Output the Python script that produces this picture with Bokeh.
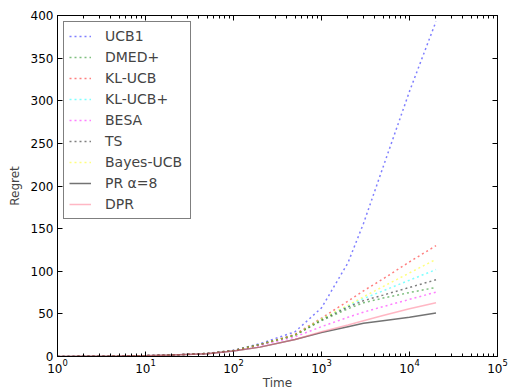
from bokeh.plotting import figure
from bokeh.models import (FixedTicker, LogAxis, LinearAxis, Legend, LegendItem)
from bokeh.embed import file_html
from bokeh.resources import INLINE

# ---------------- data ----------------
time = [1, 2, 5, 10, 20, 50, 100, 200, 500, 1000, 2000, 3000, 5000, 10000, 20000]
ucb1 = [0, 0.2, 0.5, 1.0, 1.8, 3.6, 7.2, 15, 29, 57, 110, 156, 222, 311, 393]
dmed_plus = [0, 0.2, 0.5, 1.0, 1.8, 3.5, 7.0, 14, 25, 42, 56, 63, 68.5, 75, 81]
kl_ucb = [0, 0.2, 0.5, 1.0, 1.8, 3.5, 7.0, 14, 26, 45, 65, 77, 91, 111, 130]
kl_ucb_plus = [0, 0.2, 0.5, 1.0, 1.8, 3.5, 7.0, 14, 25, 44, 59, 68, 77, 89.5, 102]
besa = [0, 0.2, 0.5, 1.0, 1.8, 3.4, 6.8, 13, 23, 35, 46, 52, 58.5, 67, 75.5]
ts = [0, 0.2, 0.5, 1.0, 1.8, 3.5, 7.0, 14, 25, 43, 58, 65.5, 72, 81, 90]
bayes_ucb = [0, 0.2, 0.5, 1.0, 1.8, 3.5, 7.0, 14, 25, 44, 60, 70, 82, 98, 114]
pr_alpha8 = [0, 0.2, 0.5, 1.0, 1.7, 3.3, 6.5, 11, 20, 28, 35, 39, 42, 46, 51]
dpr = [0, 0.2, 0.5, 1.0, 1.7, 3.3, 6.5, 11, 20, 29, 37, 42, 48, 56, 63]

labels = ["UCB1", "DMED+", "KL-UCB", "KL-UCB+", "BESA", "TS", "Bayes-UCB",
          "PR \u03b1=8", "DPR"]
series = [ucb1, dmed_plus, kl_ucb, kl_ucb_plus, besa, ts, bayes_ucb, pr_alpha8, dpr]
colors = ["#0000ff", "#008000", "#ff0000", "#00ffff", "#ff00ff", "#000000",
          "#ffff00", "#000000", "#ff6f8a"]
alphas = [0.5, 0.5, 0.5, 0.5, 0.5, 0.5, 0.5, 0.55, 0.5]
dashes = ["2 3"] * 7 + ["solid", "solid"]

x_major = [1, 10, 100, 1000, 10000, 100000]
y_major = [0, 50, 100, 150, 200, 250, 300, 350, 400]

FONT = "DejaVu Sans"

p = figure(width=510, height=392, x_axis_type="log", x_range=(1, 1e5),
           y_range=(0, 400), output_backend="svg", toolbar_location=None,
           min_border_left=57, min_border_right=13, min_border_top=15,
           min_border_bottom=34)
p.background_fill_color = "white"
p.border_fill_color = "white"
p.outline_line_color = "black"
p.outline_line_width = 1
p.xgrid.visible = False
p.ygrid.visible = False

minor = [m * 10 ** e for e in range(0, 5) for m in range(2, 10)]
xt = FixedTicker(ticks=x_major, minor_ticks=minor)
yt = FixedTicker(ticks=y_major)

def style(ax, show_labels):
    ax.axis_line_color = "black"
    ax.major_tick_in = 5
    ax.major_tick_out = 0
    ax.minor_tick_in = 3
    ax.minor_tick_out = 0
    ax.major_tick_line_color = "black"
    ax.minor_tick_line_color = "black"
    ax.major_label_text_font = FONT
    ax.major_label_text_font_size = "12px" if show_labels else "0px"
    ax.major_label_text_color = "black"
    ax.axis_label_text_font = FONT
    ax.axis_label_text_font_size = "12px"
    ax.axis_label_text_font_style = "normal"
    if not show_labels:
        ax.major_label_text_alpha = 0
        ax.major_label_standoff = 0

xa = p.xaxis[0]
xa.ticker = xt
xa.axis_label = "Time"
style(xa, True)
xa.axis_label_standoff = 0
xa.major_label_standoff = 2

ya = p.yaxis[0]
ya.ticker = yt
ya.axis_label = "Regret"
style(ya, True)
ya.axis_label_standoff = 6
ya.major_label_standoff = 4
ya.minor_tick_line_color = None

top = LogAxis(ticker=FixedTicker(ticks=x_major, minor_ticks=minor))
style(top, False)
p.add_layout(top, "above")
right = LinearAxis(ticker=FixedTicker(ticks=y_major))
style(right, False)
right.minor_tick_line_color = None
p.add_layout(right, "right")

items = []
for lab, ys, c, a, d in zip(labels, series, colors, alphas, dashes):
    r = p.line(time, ys, line_color=c, line_alpha=a, line_width=1.5, line_dash=d)
    items.append(LegendItem(label=lab, renderers=[r]))

leg = Legend(items=items, location="top_left")
leg.margin = 6
leg.padding = 5
leg.spacing = 3
leg.label_height = 18
leg.glyph_height = 18
leg.glyph_width = 22
leg.label_standoff = 14
leg.label_width = 80
leg.label_text_font = FONT
leg.label_text_font_size = "14px"
leg.border_line_color = "black"
leg.border_line_width = 1
leg.background_fill_color = "white"
leg.background_fill_alpha = 1
p.add_layout(leg)

open("out.html", "w").write(file_html(p, INLINE))
